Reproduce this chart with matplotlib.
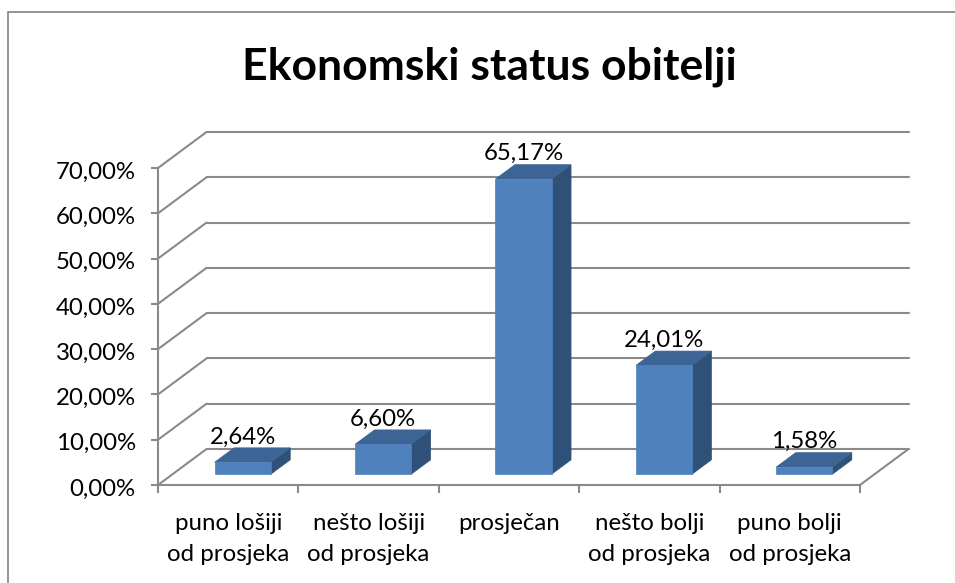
import matplotlib
matplotlib.use('Agg')
import matplotlib.pyplot as plt
from matplotlib.patches import Polygon, Rectangle
from matplotlib.transforms import ScaledTranslation

plt.rcParams['font.family'] = ['Lato', 'DejaVu Sans']

kategorije = ['puno lošiji\nod prosjeka', 'nešto lošiji\nod prosjeka', 'prosječan',
              'nešto bolji\nod prosjeka', 'puno bolji\nod prosjeka']
vrijednosti = [2.64, 6.60, 65.17, 24.01, 1.58]
oznake = ['2,64%', '6,60%', '65,17%', '24,01%', '1,58%']
y_vrijednosti = [0, 10, 20, 30, 40, 50, 60, 70]
y_oznake = ['0,00%', '10,00%', '20,00%', '30,00%', '40,00%', '50,00%', '60,00%', '70,00%']

SIVA = '#8a8a8a'
W, H = 955, 583

fig = plt.figure(figsize=(W / 100, H / 100), dpi=100)
fig.add_artist(Rectangle((8 / W, -0.1), 2, 1.1 - 12 / H, transform=fig.transFigure,
                         fc='none', ec=SIVA, lw=1.3))

# prednja ravnina grafa, dubina se dodaje kao pomak u jedinicama osi
ax = fig.add_axes([158 / W, 1 - 485 / H, 702 / W, 317 / H])
ax.set_xlim(0, 5)
ax.set_ylim(0, 70)
ax.patch.set_visible(False)

DX = 48.5 / 140.4
DY = 36 / 4.53


def proj(x, y, d):
    return x + d * DX, y + d * DY


def crta(a, b):
    ax.plot([a[0], b[0]], [a[1], b[1]], color=SIVA, lw=1.5, clip_on=False,
            solid_capstyle='round', zorder=1)


for v in y_vrijednosti:
    crta(proj(0, v, 0), proj(0, v, 1))
    crta(proj(0, v, 1), proj(5, v, 1))
crta(proj(5, 0, 0), proj(5, 0, 1))

for s in ['top', 'right']:
    ax.spines[s].set_visible(False)
for s in ['left', 'bottom']:
    ax.spines[s].set_color(SIVA)
    ax.spines[s].set_linewidth(1.5)

ax.set_yticks(y_vrijednosti)
ax.set_yticklabels(y_oznake, fontsize=17.3)
ax.tick_params(axis='y', length=5, width=1.5, color=SIVA, pad=11)
# oznake na y osi malo nize
pomak = ScaledTranslation(0, -1.5 / 72, fig.dpi_scale_trans)
for t in ax.get_yticklabels():
    t.set_transform(t.get_transform() + pomak)
ax.set_xticks(range(6))
ax.set_xticklabels([])
ax.tick_params(axis='x', which='major', length=6, width=1.5, color=SIVA)
ax.set_xticks([i + 0.5 for i in range(5)], minor=True)
ax.set_xticklabels(kategorije, minor=True, fontsize=17.3, linespacing=1.62)
ax.tick_params(axis='x', which='minor', length=0, pad=20)

# stupci: sirina 0.4 kategorije, dubina od 0.3 do 0.7
for i, v in enumerate(vrijednosti):
    x0, x1 = i + 0.3, i + 0.7
    prednja = [proj(x0, 0, 0.3), proj(x1, 0, 0.3), proj(x1, v, 0.3), proj(x0, v, 0.3)]
    gornja = [proj(x0, v, 0.3), proj(x1, v, 0.3), proj(x1, v, 0.7), proj(x0, v, 0.7)]
    bocna = [proj(x1, 0, 0.3), proj(x1, 0, 0.7), proj(x1, v, 0.7), proj(x1, v, 0.3)]
    ax.add_patch(Polygon(bocna, fc='#2f5178', ec='#2f5178', lw=0.5, clip_on=False, zorder=3))
    ax.add_patch(Polygon(gornja, fc='#3c6494', ec='#3c6494', lw=0.5, clip_on=False, zorder=3))
    ax.add_patch(Polygon(prednja, fc='#4f81bd', ec='#4f81bd', lw=0.5, clip_on=False, zorder=4))
    ax.annotate(oznake[i], xy=(i + 0.5 + 0.3 * DX, proj(0, v, 0.7)[1]), xytext=(0, 3.2),
                textcoords='offset points', ha='center', va='baseline', fontsize=17.3,
                color='black', zorder=5, annotation_clip=False)

fig.text(489 / W, 1 - 67 / H, 'Ekonomski status obitelji', ha='center', va='center',
         fontsize=32, fontweight='bold', color='black')

fig.savefig('out.png', dpi=100)
